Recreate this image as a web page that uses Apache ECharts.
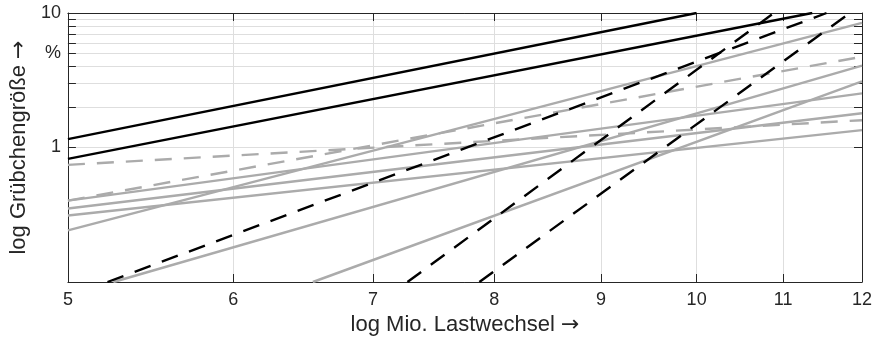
<!DOCTYPE html>
<html><head><meta charset="utf-8">
<script src="https://cdn.jsdelivr.net/npm/echarts@6/dist/echarts.min.js"></script>
<style>html,body{margin:0;padding:0;background:#fff}#c{width:879px;height:341px}</style>
</head><body><div id="c"></div>
<script>
// ---- data ----
const xTicks = [5, 6, 7, 8, 9, 10, 11, 12];
const yTicks = [1, 2, 3, 4, 5, 6, 7, 8, 9, 10];
const yLabelValues = [1, 5, 10];
const yLabelText = {1: '1', 5: '%', 10: '10'};

const blackSolid = [
  [[5, 1.155], [10, 10]],
  [[5, 0.8225], [11.36, 10]]
];
const blackDashed = [
  [[5.223, 0.1], [11.54, 10]],
  [[7.27, 0.1], [10.89, 10]],
  [[7.87, 0.1], [11.84, 10]]
];
const grayDashed = [
  [[5, 0.743], [12, 1.596]],
  [[5, 0.403], [12, 4.73]]
];
const graySolid = [
  [[5, 0.403], [12, 2.525]],
  [[5, 0.3516], [12, 1.797]],
  [[5, 0.312], [12, 1.346]],
  [[5, 0.242], [12, 8.44]],
  [[5.257, 0.1], [12, 4.06]],
  [[6.55, 0.1], [12, 3.096]]
];

// ---- chart ----
const axisColor = '#262626';
const gridColor = '#dedede';
const font = '"Liberation Sans", Arial, Helvetica, sans-serif';
const grayColor = '#ababab';
const dash = [17, 12];

const xBase = {
  type: 'log', logBase: 10, min: 5, max: 12,
  axisLine: {show: true, onZero: false, lineStyle: {color: axisColor, width: 1}},
  axisTick: {show: true, inside: true, length: 8, customValues: xTicks, lineStyle: {color: axisColor}},
  minorTick: {show: false},
  splitLine: {show: false}
};
const yBase = {
  type: 'log', logBase: 10, min: 0.1, max: 10,
  axisLine: {show: true, onZero: false, lineStyle: {color: axisColor, width: 1}},
  axisTick: {show: true, inside: true, length: 8, customValues: yTicks, lineStyle: {color: axisColor}},
  minorTick: {show: false},
  splitLine: {show: false}
};

function mk(data, color, type) {
  return {
    type: 'line', data: data, showSymbol: false, symbol: 'none', silent: true,
    xAxisIndex: 0, yAxisIndex: 0, clip: true,
    lineStyle: {color: color, width: 2.4, type: type, cap: 'butt'}
  };
}

const series = [];
graySolid.forEach(d => series.push(mk(d, grayColor, 'solid')));
grayDashed.forEach(d => series.push(mk(d, grayColor, dash)));
blackDashed.forEach(d => series.push(mk(d, '#000', dash)));
blackSolid.forEach(d => series.push(mk(d, '#000', 'solid')));

const arrowRich = {a: {fontFamily: '"DejaVu Sans", sans-serif', fontSize: 22, color: axisColor}};

const chart = echarts.init(document.getElementById('c'), null, {renderer: 'canvas'});
chart.setOption({
  animation: false,
  backgroundColor: '#fff',
  grid: {left: 59, right: 17, top: 13, bottom: 57, containLabel: false},
  xAxis: [
    Object.assign({}, xBase, {
      position: 'bottom',
      axisLabel: {show: true, customValues: xTicks, formatter: v => String(Math.round(v)),
        fontSize: 18, color: axisColor, fontFamily: font, margin: 9},
      splitLine: {show: true, lineStyle: {color: gridColor, width: 1}},
      name: 'log Mio. Lastwechsel {a|→}', nameLocation: 'middle', nameGap: 32,
      nameTextStyle: {fontSize: 22, color: axisColor, fontFamily: font, rich: arrowRich}
    }),
    Object.assign({}, xBase, {position: 'top', axisLabel: {show: false}})
  ],
  yAxis: [
    Object.assign({}, yBase, {
      position: 'left',
      axisLabel: {show: true, customValues: yLabelValues, formatter: v => yLabelText[Math.round(v)] || '',
        fontSize: 18, color: axisColor, fontFamily: font, margin: 7},
      splitLine: {show: true, lineStyle: {color: gridColor, width: 1}},
      name: 'log Grübchengröße {a|→}', nameLocation: 'middle', nameGap: 37, nameRotate: 90,
      nameTextStyle: {fontSize: 22, color: axisColor, fontFamily: font, rich: arrowRich}
    }),
    Object.assign({}, yBase, {position: 'right', axisLabel: {show: false}})
  ],
  series: series
});
</script>
</body></html>
